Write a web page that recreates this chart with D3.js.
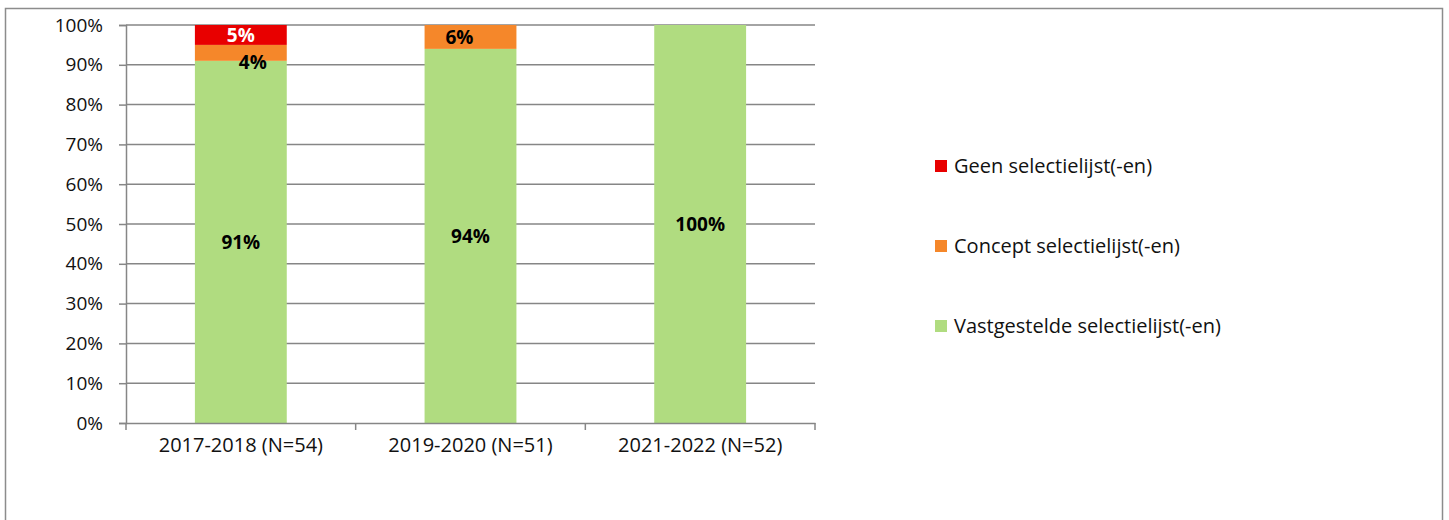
<!DOCTYPE html>
<html><head><meta charset="utf-8">
<script src="https://cdn.jsdelivr.net/npm/d3@7"></script>
<style>
body{margin:0;background:#fff;}
svg{display:block;font-family:"Open Sans",sans-serif;}
</style></head>
<body><svg id="c" width="1449" height="520"></svg>
<script>
const categories = ["2017-2018 (N=54)", "2019-2020 (N=51)", "2021-2022 (N=52)"];
const seriesNames = ["Vastgestelde selectielijst(-en)", "Concept selectielijst(-en)", "Geen selectielijst(-en)"];
const vastgesteld = [91, 94, 100];
const concept = [4, 6, 0];
const geen = [5, 0, 0];
const colors = ["#b0dc80", "#f5872a", "#e80000"];
const labelColors = ["#000", "#000", "#fff"];
const yTicks = [0,10,20,30,40,50,60,70,80,90,100];

const svg = d3.select("#c");
const M = {left:126, right:815, top:25, bottom:423};

// outer frame
svg.append("rect").attr("x",5.5).attr("y",8.5).attr("width",1437).attr("height",530)
  .attr("fill","none").attr("stroke","#8c8c8c").attr("stroke-width",1.5);

const x = d3.scaleBand().domain(categories).range([M.left, M.right]).paddingInner(0.6).paddingOuter(0.3);
const x0 = d3.scaleBand().domain(categories).range([M.left, M.right]);
const y = d3.scaleLinear().domain([0,100]).range([M.bottom, M.top]);

// gridlines
svg.append("g").selectAll("line").data(yTicks.filter(d=>d>0)).join("line")
  .attr("x1",M.left).attr("x2",M.right).attr("y1",d=>y(d)).attr("y2",d=>y(d))
  .attr("stroke","#868686").attr("stroke-width",1.5);

// stack
const rows = categories.map((c,i)=>({cat:c, v0:vastgesteld[i], v1:concept[i], v2:geen[i]}));
const stack = d3.stack().keys(["v0","v1","v2"])(rows);

stack.forEach((layer,k)=>{
  svg.append("g").selectAll("rect").data(layer).join("rect")
    .attr("x",d=>x(d.data.cat)).attr("width",x.bandwidth())
    .attr("y",d=>y(d[1])).attr("height",d=>y(d[0])-y(d[1]))
    .attr("fill",colors[k]);
});

// y axis
const yAxis = svg.append("g").attr("transform",`translate(${M.left},0)`)
  .call(d3.axisLeft(y).tickValues(yTicks).tickFormat(d=>d+"%").tickSize(7).tickPadding(16));
yAxis.select(".domain").attr("stroke","#868686").attr("stroke-width",1.5);
yAxis.selectAll(".tick line").attr("stroke","#868686").attr("stroke-width",1.5);
yAxis.selectAll("text").attr("font-size",19).attr("fill","#111").attr("font-family","Open Sans");

// x axis
const xAxis = svg.append("g").attr("transform",`translate(0,${M.bottom})`)
  .call(d3.axisBottom(x0).tickSize(0).tickPadding(15));
xAxis.select(".domain").attr("stroke","#868686").attr("stroke-width",1.5);
xAxis.selectAll("text").attr("font-size",20).attr("fill","#111").attr("font-family","Open Sans");
svg.append("g").selectAll("line").data(d3.range(categories.length+1)).join("line")
  .attr("x1",i=>M.left + i*x0.step()).attr("x2",i=>M.left + i*x0.step())
  .attr("y1",M.bottom).attr("y2",M.bottom+7).attr("stroke","#868686").attr("stroke-width",1.5);

// labels
stack.forEach((layer,k)=>{
  svg.append("g").selectAll("text").data(layer.filter(d=>d[1]-d[0]>0)).join("text")
    .attr("x",d=>{
      const cx = x(d.data.cat)+x.bandwidth()/2;
      if (k===1 && d.data.v2>0) return cx+12;
      if (k===1) return cx-11;
      return cx;
    })
    .attr("y",d=>{
      if (k===1 && d.data.v2>0) return y(d[0])+1;
      return (y(d[0])+y(d[1]))/2;
    })
    .attr("dy","0.36em").attr("text-anchor","middle")
    .attr("font-size",19).attr("font-weight","bold").attr("fill",labelColors[k])
    .text(d=>(d[1]-d[0])+"%");
});

// legend
const legendOrder = [2,1,0];
const lg = svg.append("g").selectAll("g").data(legendOrder).join("g")
  .attr("transform",(d,i)=>`translate(935,${166+i*80})`);
lg.append("rect").attr("x",0).attr("y",-6).attr("width",12).attr("height",12).attr("fill",d=>colors[d]);
lg.append("text").attr("x",19).attr("dy","0.36em").attr("font-size",20).attr("fill","#111")
  .text(d=>seriesNames[d]);
</script></body></html>
